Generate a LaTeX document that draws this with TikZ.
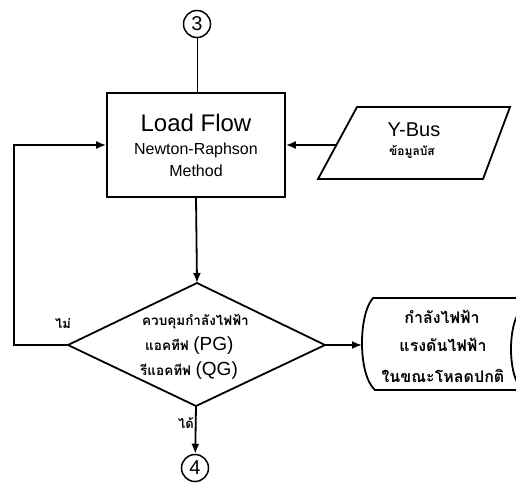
\documentclass[tikz,border=0pt]{standalone}
\usepackage{fontspec}
\setmainfont{Liberation Sans}
\newfontfamily\thai[Script=Thai]{Loma}
\usetikzlibrary{arrows.meta}
\begin{document}
\begin{tikzpicture}[x=1pt,y=-1pt,
  shp/.style={line width=1.8pt},
  arr/.style={line width=1.8pt,line join=miter,-{Latex[length=10pt,width=8pt]}},
  lbl/.style={inner sep=0pt},
  numc/.style={draw,circle,line width=1.5pt,minimum size=27pt,inner sep=0pt,font=\fontsize{20}{20}\selectfont}]
\useasboundingbox (0,0) rectangle (516,485);
% connectors circles
\node[numc] (c3) at (197,24) {3};
\node[numc] (c4) at (195,468) {4};
% Load flow box
\node[draw,shp,rectangle,minimum width=178pt,minimum height=104pt] (lf) at (196,145) {};
\node[lbl,font=\fontsize{24}{24}\selectfont] (lf1) at (196,123) {Load Flow};
\node[lbl,font=\fontsize{16}{16}\selectfont] (lf2) at (196,150) {Newton-Raphson};
\node[lbl,font=\fontsize{16}{16}\selectfont] (lf3) at (196,171) {Method};
% Y-Bus parallelogram
\draw[shp,line join=miter] (357,107) -- (510,107) -- (483,179) -- (318,179) -- cycle;
\coordinate (yb) at (336.4,145);
\node[lbl,font=\fontsize{20}{20}\selectfont] (yb1) at (414,130) {Y-Bus};
\node[lbl,font=\thai\bfseries\fontsize{12}{12}\selectfont] (yb2) at (412,152) {ข้อมูลบัส};
% diamond
\coordinate (dt) at (197,283);
\coordinate (dr) at (325,345);
\coordinate (db) at (196,406);
\coordinate (dl) at (68,345);
\draw[shp,line join=miter] (dt) -- (dr) -- (db) -- (dl) -- cycle;
\node[lbl,anchor=west,font=\thai\bfseries\fontsize{13.5}{14}\selectfont] (d1) at (142,322) {ควบคุมกำลังไฟฟ้า};
\node[lbl,anchor=west,font=\thai\bfseries\fontsize{13.5}{14}\selectfont] (d2) at (145,346) {แอคทีฟ \fontspec{Liberation Sans}\mdseries\fontsize{19}{19}\selectfont(PG)};
\node[lbl,anchor=west,font=\thai\bfseries\fontsize{13.5}{14}\selectfont] (d3) at (140,371) {รีแอคทีฟ \fontspec{Liberation Sans}\mdseries\fontsize{19}{19}\selectfont(QG)};
% display shape
\coordinate (dsl) at (362,345);
\draw[shp] (516,298) -- (373,298) .. controls (358,315) and (358,375) .. (375,390) -- (516,390);
\draw[shp] (517,316) .. controls (509,332) and (509,366) .. (517,382);
\node[lbl,font=\thai\bfseries\fontsize{16}{16}\selectfont] (ds1) at (442,317) {กำลังไฟฟ้า};
\node[lbl,font=\thai\bfseries\fontsize{16}{16}\selectfont] (ds2) at (443,345) {แรงดันไฟฟ้า};
\node[lbl,font=\thai\bfseries\fontsize{16}{16}\selectfont] (ds3) at (443,376) {ในขณะโหลดปกติ};
% labels
\node[lbl,font=\thai\bfseries\fontsize{13}{13}\selectfont] (no) at (63,323) {ไม่};
\node[lbl,font=\thai\bfseries\fontsize{13}{13}\selectfont] (yes) at (186,423) {ได้};
% connectors
\draw[line width=1pt] (c3) -- (lf.north -| c3);
\draw[arr] (lf.south) -- (dt);
\draw[arr] (yb) -- (lf.east |- yb);
\draw[arr] (dl) -- (14,345) -- (14,145) -- (lf.west);
\draw[arr] (dr) -- (dsl);
\draw[arr] (db) -- (c4);
\end{tikzpicture}
\end{document}
